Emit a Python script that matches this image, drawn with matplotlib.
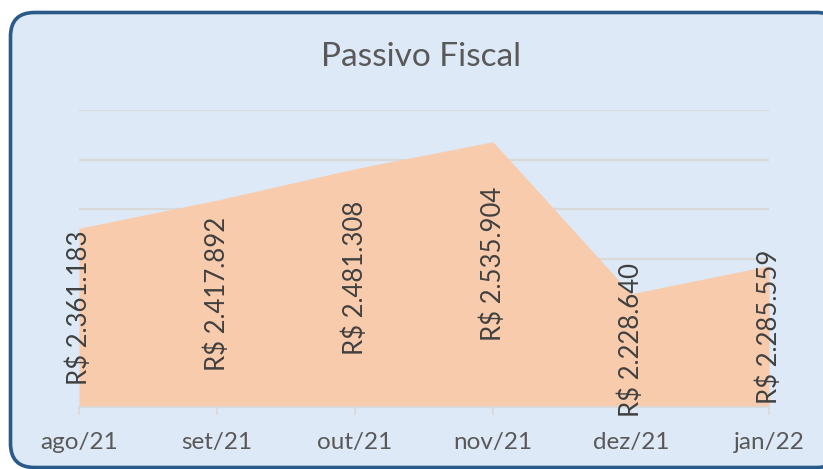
import matplotlib.pyplot as plt
from matplotlib.patches import FancyBboxPatch

# Passivo Fiscal - monthly values (R$)
months = ["ago/21", "set/21", "out/21", "nov/21", "dez/21", "jan/22"]
values = [2361183, 2417892, 2481308, 2535904, 2228640, 2285559]

y_min = 2000000
y_max = 2600000
y_step = 100000

plt.rcParams['font.family'] = ['Lato', 'DejaVu Sans']

fig = plt.figure(figsize=(8.23, 4.69), dpi=100)
fig.patch.set_facecolor("white")

# rounded chart frame, drawn in pixel units
bg = fig.add_axes([0, 0, 1, 1], zorder=0)
bg.set_xlim(0, 823)
bg.set_ylim(469, 0)
bg.axis("off")
frame = FancyBboxPatch((10.5, 12.5), 830, 455, boxstyle="round,pad=0,rounding_size=24",
                       facecolor="#dde9f6", edgecolor="#2a5a8a", linewidth=2.6)
bg.add_patch(frame)

ax = fig.add_axes([79/823, 62/469, 690/823, 297/469], zorder=1)
ax.patch.set_alpha(0)

x = list(range(len(months)))
ax.fill_between(x, y_min, values, color="#f8cbad", linewidth=0, zorder=2)

ax.set_xlim(0, len(months) - 1)
ax.set_ylim(y_min, y_max)
ax.set_yticks(range(y_min, y_max + 1, y_step))
ax.grid(axis='y', color="#d9d9d9", linewidth=1.6, zorder=1)
ax.tick_params(axis='y', left=False, labelleft=False)

ax.set_xticks(x)
ax.set_xticklabels(months, fontsize=17.5, color="#595959")
ax.tick_params(axis='x', length=6, width=1.2, color="#d9d9d9", pad=12)
for side in ["left", "right", "top"]:
    ax.spines[side].set_visible(False)
ax.spines["bottom"].set_color("#d9d9d9")
ax.spines["bottom"].set_linewidth(1.6)

# data labels in the middle of the area
for i, v in enumerate(values):
    label = "R$ " + f"{v:,}".replace(",", ".")
    ax.annotate(label, (i, (v + y_min) / 2), xytext=(0, 10), textcoords="offset pixels",
                rotation=90, ha="center", va="center", fontsize=18.5, color="#404040", zorder=3)

fig.text(421/823, 1 - 57/469, "Passivo Fiscal", ha="center", va="center",
         fontsize=24, color="#595959")

plt.savefig("out.png", dpi=100)
